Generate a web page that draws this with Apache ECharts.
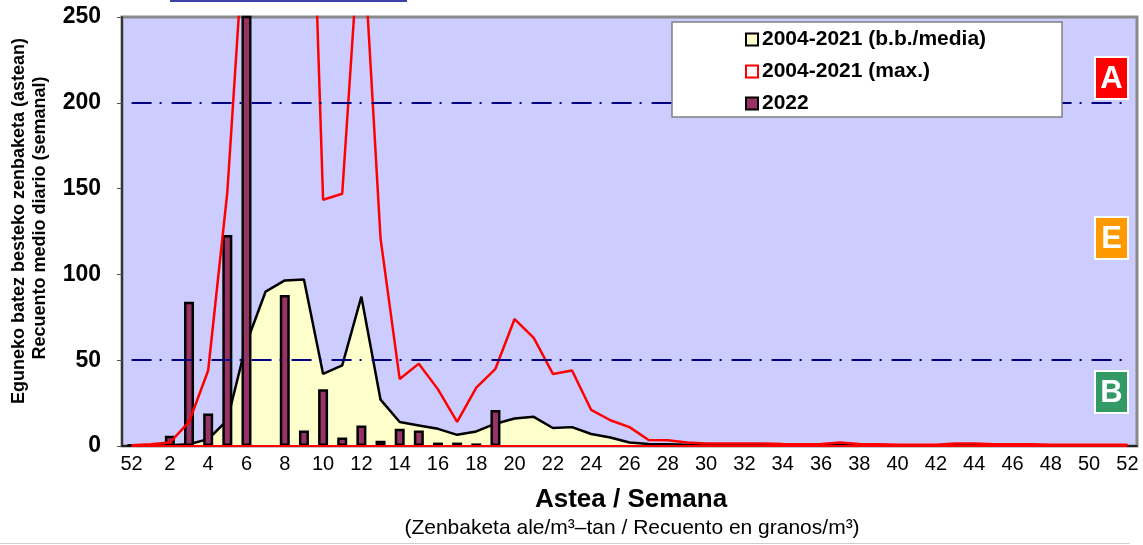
<!DOCTYPE html>
<html>
<head>
<meta charset="utf-8">
<title>Astea / Semana</title>
<script src="https://cdn.jsdelivr.net/npm/echarts@6/dist/echarts.min.js"></script>
<style>
  html, body { margin: 0; padding: 0; background: #fff; }
  #chart { width: 1143px; height: 545px; }
</style>
</head>
<body>
<div id="chart"></div>
<script>
// weeks: previous year's 52 then 1..52
const weeks = ['52', '1', '2', '3', '4', '5', '6', '7', '8', '9', '10', '11', '12', '13', '14', '15', '16', '17', '18', '19', '20',
  '21', '22', '23', '24', '25', '26', '27', '28', '29', '30', '31', '32', '33', '34', '35', '36', '37', '38', '39', '40',
  '41', '42', '43', '44', '45', '46', '47', '48', '49', '50', '51', '52']

// 2004-2021 mean
const meanVals = [0.3, 0.3, 0.5, 1, 4, 15, 60, 90, 96.5, 97, 42, 47, 87, 27, 14, 12, 10, 6.5, 8.5, 13, 16,
  17, 10.5, 11, 7, 5, 2, 1.2, 1, 0.8, 0.6, 0.5, 0.5, 0.5, 0.5, 0.4, 0.4, 0.5, 0.4, 0.4, 0.3,
  0.3, 0.3, 0.4, 0.4, 0.3, 0.3, 0.3, 0.3, 0.3, 0.3, 0.3, 0.3]

// 2004-2021 max
const maxVals = [0.5, 1, 2, 14, 44, 148, 320, 380, 430, 490, 143.5, 147, 315, 121, 39, 48, 33, 14, 34, 45, 74,
  63, 42, 44, 21, 15, 11, 3.5, 3.3, 2, 1.5, 1.5, 1.5, 1.5, 1.2, 1, 1.2, 2, 1.2, 1, 0.8,
  0.8, 0.8, 1.5, 1.5, 1, 1, 1, 0.8, 0.7, 0.7, 0.8, 0.8]

// 2022 weekly values (season in progress)
const vals2022 = [1, 0.8, 6, 84, 19, 123, 300, null, 88, 9, 33, 5, 12, 3, 10, 9, 2, 2, 1.5, 21, null,
  null, null, null, null, null, null, null, null, null, null, null, null, null, null, null, null, null, null, null, null,
  null, null, null, null, null, null, null, null, null, null, null, null]

const yTicks = { min: 0, max: 250, interval: 50 }
const thresholds = [200, 50]
const seriesNames = ['2004-2021 (b.b./media)', '2004-2021 (max.)', '2022']

const font = 'Arial, "Liberation Sans", sans-serif'
const chart = echarts.init(document.getElementById('chart'))

const badge = (label, color, top) => ({
  type: 'group',
  z: 20,
  children: [
    {
      type: 'rect',
      shape: { x: 1095, y: top, width: 33, height: 42 },
      style: { fill: color, stroke: '#fff', lineWidth: 2 }
    },
    {
      type: 'text',
      style: {
        x: 1111.5, y: top + 22, text: label, fill: '#fff',
        font: 'bold 31px ' + font, textAlign: 'center', textVerticalAlign: 'middle'
      }
    }
  ]
})

const option = {
  animation: false,
  grid: {
    left: 122,
    right: 6,
    top: 17,
    bottom: 99,
    show: true,
    backgroundColor: '#CCCCFF',
    borderColor: '#8a8a8a',
    borderWidth: 3
  },
  legend: {
    left: 740,
    top: 24,
    orient: 'vertical',
    itemWidth: 12,
    itemHeight: 12,
    itemGap: 11,
    selectedMode: false,
    z: 30,
    textStyle: { fontSize: 21, fontWeight: 'bold', color: '#000', fontFamily: font, padding: [0, 0, 0, -1] },
    data: [
      { name: seriesNames[0], icon: 'rect', itemStyle: { color: '#FFFFCC', borderColor: '#000', borderWidth: 2 } },
      { name: seriesNames[1], icon: 'rect', itemStyle: { color: '#fff', borderColor: '#ff0000', borderWidth: 2 } },
      { name: seriesNames[2], icon: 'rect', itemStyle: { color: '#993366', borderColor: '#000', borderWidth: 2 } }
    ]
  },
  xAxis: {
    type: 'category',
    data: weeks,
    boundaryGap: true,
    axisLine: { lineStyle: { color: '#000', width: 1.5 } },
    axisTick: { interval: 0, length: 6, lineStyle: { color: '#000' } },
    axisLabel: { interval: 1, color: '#000', fontSize: 20, fontFamily: font, margin: 8 },
    splitLine: { show: false }
  },
  yAxis: {
    type: 'value',
    min: yTicks.min,
    max: yTicks.max,
    interval: yTicks.interval,
    axisLine: { show: true, lineStyle: { color: '#333', width: 2 } },
    axisTick: { show: true, length: 5, lineStyle: { color: '#555' } },
    axisLabel: { color: '#000', fontSize: 23, fontWeight: 'bold', fontFamily: font, margin: 21 },
    splitLine: { show: false }
  },
  series: [
    {
      name: seriesNames[0],
      type: 'line',
      data: meanVals,
      symbol: 'none',
      z: 1,
      lineStyle: { color: '#000', width: 2.5 },
      itemStyle: { color: '#FFFFCC' },
      areaStyle: { color: '#FFFFCC', opacity: 1 },
      markLine: {
        silent: true,
        symbol: 'none',
        label: { show: false },
        lineStyle: { color: '#000080', width: 2, type: [20, 8, 2, 10] },
        data: thresholds.map(v => [{ coord: [0, v] }, { coord: [weeks.length - 1, v] }])
      }
    },
    {
      name: seriesNames[2],
      type: 'bar',
      data: vals2022,
      barWidth: 10,
      z: 2,
      itemStyle: { color: '#993366', borderColor: '#000', borderWidth: 2.5 }
    },
    {
      name: seriesNames[1],
      type: 'line',
      data: maxVals,
      symbol: 'none',
      z: 3,
      lineStyle: { color: '#ff0000', width: 2.5 },
      itemStyle: { color: '#ff0000' },
      markLine: {
        silent: true,
        symbol: 'none',
        label: { show: false },
        lineStyle: { color: '#ff0000', width: 2, type: 'solid' },
        data: [[{ coord: [0, 0] }, { coord: [weeks.length - 1, 0] }]]
      }
    }
  ],
  graphic: [
    // cut-off frame at the very top
    { type: 'rect', z: 20, shape: { x: 170, y: 0, width: 237, height: 2 }, style: { fill: '#3f3fa8' } },
    // outer frame bottom
    { type: 'line', z: 20, shape: { x1: 0, y1: 543.5, x2: 1130, y2: 543.5 }, style: { stroke: '#cfcfcf', lineWidth: 1 } },
    // legend box
    {
      type: 'rect', z: 25,
      shape: { x: 672, y: 22, width: 390, height: 95 },
      style: { fill: '#fff', stroke: '#808080', lineWidth: 1.5 }
    },
    badge('A', '#ff0000', 57),
    badge('E', '#ff9900', 217),
    badge('B', '#339966', 371),
    {
      type: 'text', z: 20,
      style: {
        x: 631, y: 500, text: 'Astea / Semana', fill: '#000',
        font: 'bold 26px ' + font, textAlign: 'center', textVerticalAlign: 'middle'
      }
    },
    {
      type: 'text', z: 20,
      style: {
        x: 632, y: 528, text: '(Zenbaketa ale/m³–tan / Recuento en granos/m³)', fill: '#000',
        font: '21px ' + font, textAlign: 'center', textVerticalAlign: 'middle'
      }
    },
    {
      type: 'text', z: 20, x: 19, y: 221, rotation: Math.PI / 2,
      style: {
        x: 0, y: 0, text: 'Eguneko batez besteko zenbaketa (astean)', fill: '#000',
        font: 'bold 18px ' + font, textAlign: 'center', textVerticalAlign: 'middle'
      }
    },
    {
      type: 'text', z: 20, x: 40, y: 218, rotation: Math.PI / 2,
      style: {
        x: 0, y: 0, text: 'Recuento medio diario (semanal)', fill: '#000',
        font: 'bold 18px ' + font, textAlign: 'center', textVerticalAlign: 'middle'
      }
    }
  ]
}

chart.setOption(option)
</script>
</body>
</html>
